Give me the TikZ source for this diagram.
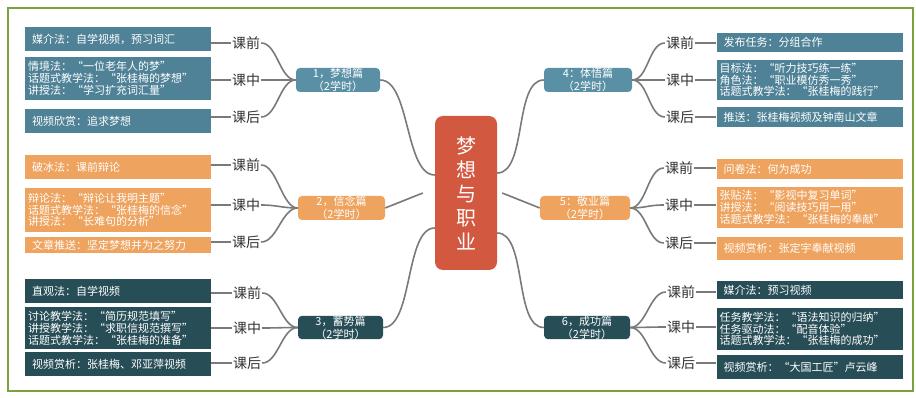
\documentclass[tikz,border=0pt]{standalone}
\usepackage{fontspec}
\setmainfont{Noto Sans CJK SC}
\definecolor{cblue}{HTML}{4F8297}
\definecolor{cbluen}{HTML}{5A90A5}
\definecolor{corange}{HTML}{EEA35F}
\definecolor{cdark}{HTML}{274D57}
\definecolor{cred}{HTML}{D2583F}
\definecolor{cframe}{HTML}{7BA23F}
\definecolor{cline}{HTML}{7A7A7A}
\begin{document}
\begin{tikzpicture}[x=1pt,y=-1pt,
  box/.style={draw=none, inner ysep=0pt, text=white, font=\fontsize{11}{11.8}\selectfont, align=left},
  lb/.style={box, text width=172pt, inner xsep=7pt},
  mb/.style={box, text width=180pt, inner xsep=3pt},
  lab/.style={font=\fontsize{14}{14}\selectfont, text=black!80, inner sep=1pt},
  br/.style={rounded corners=4pt, text=white, inner sep=0pt, align=center, font=\fontsize{11}{13}\selectfont},
  conn/.style={draw=cline, line width=1.6pt},
  ]
\useasboundingbox (0,0) rectangle (916,398);
\fill[white] (0,0) rectangle (916,398);
\draw[cframe, line width=2.5pt] (8,8) rectangle (913,391);

% centre
\node[fill=cred, rounded corners=8pt, text=white, minimum width=62pt, minimum height=154pt, inner sep=0pt, align=center, font=\fontsize{20}{24}\selectfont] (c) at (466,193) {梦\\想\\与\\职\\业};

% branch nodes
\node[br, fill=cbluen, minimum width=84pt, minimum height=24pt] (n1) at (338,80) {1，梦想篇\\（2学时）};
\node[br, fill=corange, minimum width=87pt, minimum height=24pt] (n2) at (341.5,208) {2，信念篇\\（2学时）};
\node[br, fill=cdark, minimum width=85pt, minimum height=23pt] (n3) at (340.5,327.5) {3，蓄势篇\\（2学时）};
\node[br, fill=cbluen, minimum width=88pt, minimum height=24pt] (n4) at (588,80) {4：体悟篇\\（2学时）};
\node[br, fill=corange, minimum width=90pt, minimum height=24pt] (n5) at (585,208) {5：敬业篇\\（2学时）};
\node[br, fill=cdark, minimum width=86pt, minimum height=23pt] (n6) at (587,327.5) {6，成功篇\\（2学时）};

% centre to branch connectors
\draw[conn] (n1.east) .. controls +(30,0) and +(-30,0) .. ([yshift=18pt]c.west);
\draw[conn] (n2.east) -- ([xshift=-12pt]c.west);
\draw[conn] (n3.east) .. controls +(30,0) and +(-30,0) .. ([yshift=-35pt]c.west);
\draw[conn] ([yshift=20pt]c.east) .. controls +(30,0) and +(-30,0) .. (n4.west);
\draw[conn] ([xshift=5pt]c.east) -- (n5.west);
\draw[conn] ([yshift=-40pt]c.east) .. controls +(30,0) and +(-30,0) .. (n6.west);

% ---- group 1 (left, blue)
\node[lb, fill=cblue, minimum height=24pt] (b1a) at (118,39) {媒介法：自学视频，预习词汇};
\node[mb, fill=cblue, minimum height=43pt] (b1b) at (118,78.5) {情境法：“一位老年人的梦”\\话题式教学法：“张桂梅的梦想”\\讲授法：“学习扩充词汇量”};
\node[lb, fill=cblue, minimum height=24pt] (b1c) at (118,121) {视频欣赏：追求梦想};
\node[lab] (l1a) at (246,43) {课前};
\node[lab] (l1b) at (246,80) {课中};
\node[lab] (l1c) at (246,117) {课后};

% ---- group 2 (left, orange)
\node[lb, fill=corange, minimum height=24pt] (b2a) at (118,167) {破冰法：课前辩论};
\node[mb, fill=corange, minimum height=44pt] (b2b) at (118,210) {辩论法：“辩论让我明主题”\\话题式教学法：“张桂梅的信念”\\讲授法：“长难句的分析”};
\node[lb, fill=corange, minimum height=16pt] (b2c) at (118,245) {文章推送：坚定梦想并为之努力};
\node[lab] (l2a) at (246,165) {课前};
\node[lab] (l2b) at (246,205) {课中};
\node[lab] (l2c) at (246,242) {课后};

% ---- group 3 (left, dark)
\node[lb, fill=cdark, minimum height=24pt] (b3a) at (118,291) {直观法：自学视频};
\node[mb, fill=cdark, minimum height=42pt] (b3b) at (118,328) {讨论教学法：“简历规范填写”\\讲授教学法：“求职信规范撰写”\\话题式教学法：“张桂梅的准备”};
\node[lb, fill=cdark, minimum height=24pt] (b3c) at (118,364) {视频赏析：张桂梅、邓亚萍视频};
\node[lab] (l3a) at (247,293) {课前};
\node[lab] (l3b) at (247,328) {课中};
\node[lab] (l3c) at (247,363) {课后};

% ---- group 4 (right, blue)
\node[lb, fill=cblue, minimum height=19pt] (b4a) at (809.5,42.5) {发布任务：分组合作};
\node[mb, fill=cblue, minimum height=40pt] (b4b) at (809.5,80) {目标法：“听力技巧练一练”\\角色法：“职业模仿秀一秀”\\话题式教学法：“张桂梅的践行”};
\node[lb, fill=cblue, minimum height=20pt] (b4c) at (809.5,117) {推送：张桂梅视频及钟南山文章};
\node[lab] (l4a) at (680,43) {课前};
\node[lab] (l4b) at (680,80) {课中};
\node[lab] (l4c) at (680,117) {课后};

% ---- group 5 (right, orange)
\node[lb, fill=corange, minimum height=20pt] (b5a) at (809.5,169) {问卷法：何为成功};
\node[mb, fill=corange, minimum height=41pt] (b5b) at (809.5,207.5) {张贴法：“影视中复习单词”\\讲授法：“阅读技巧用一用”\\话题式教学法：“张桂梅的奉献”};
\node[lb, fill=corange, minimum height=23pt] (b5c) at (809.5,248.5) {视频赏析：张定宇奉献视频};
\node[lab] (l5a) at (679,168) {课前};
\node[lab] (l5b) at (679,205) {课中};
\node[lab] (l5c) at (679,243) {课后};

% ---- group 6 (right, dark)
\node[lb, fill=cdark, minimum height=18pt] (b6a) at (809.5,290) {媒介法：预习视频};
\node[mb, fill=cdark, minimum height=42pt] (b6b) at (809.5,329) {任务教学法：“语法知识的归纳”\\任务驱动法：“配音体验”\\话题式教学法：“张桂梅的成功”};
\node[lb, fill=cdark, minimum height=24pt] (b6c) at (809.5,367) {视频赏析：“大国工匠”卢云峰};
\node[lab] (l6a) at (681,292) {课前};
\node[lab] (l6b) at (681,327) {课中};
\node[lab] (l6c) at (681,363) {课后};

% left label connectors
\foreach \g in {1,2,3}{
  \foreach \s in {a,b,c}{
    \draw[conn] (l\g\s.west) -- (l\g\s.west -| b\g\s.east);
    \draw[conn] (l\g\s.east) .. controls +(16,0) and +(-16,0) .. (n\g.west);
  }
}
% right label connectors
\foreach \g in {4,5,6}{
  \foreach \s in {a,b,c}{
    \draw[conn] (l\g\s.east) -- (l\g\s.east -| b\g\s.west);
    \draw[conn] (n\g.east) .. controls +(16,0) and +(-16,0) .. (l\g\s.west);
  }
}
\end{tikzpicture}
\end{document}
